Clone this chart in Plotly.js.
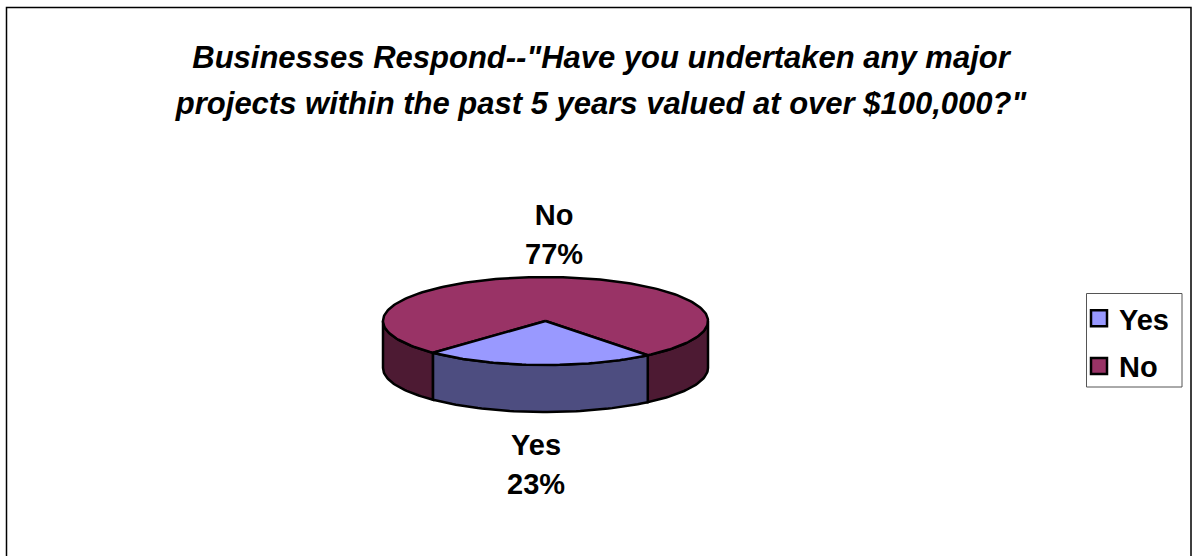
<!DOCTYPE html>
<html>
<head>
<meta charset="utf-8">
<script src="https://cdn.plot.ly/plotly-3.0.1.min.js"></script>
<style>html,body{margin:0;padding:0;background:#fff;overflow:hidden}</style>
</head>
<body>
<div id="chart" style="width:1193px;height:556px"></div>
<script>
var categories = ['Yes', 'No'];
var shares = [23, 77];
var topColors = ['#9999FF', '#993366'];
var sideColors = ['#4D4D80', '#4D1A33'];
var titleLines = ['Businesses Respond--"Have you undertaken any major', 'projects within the past 5 years valued at over $100,000?"'];

var W = 1193, H = 556;
var cx = 545.5, cy = 321, rx = 162.5, ry = 44, depth = 47;
var startDeg = 141;
var FONT = 'Liberation Sans, Arial, sans-serif';

// The pie's unit coordinates: x = sin(theta), y = cos(theta) * tilt, so the scales do the placing.
var tilt = ry / rx, drop = depth / rx;
function pt(deg) { var r = deg * Math.PI / 180; return [Math.sin(r), Math.cos(r) * tilt]; }
function arc(a, b, dy) {
  var xs = [], ys = [], n = Math.max(2, Math.ceil(Math.abs(b - a) / 1.5));
  for (var i = 0; i <= n; i++) { var p = pt(a + (b - a) * i / n); xs.push(p[0]); ys.push(p[1] - dy); }
  return [xs, ys];
}
function poly(xy, name, fill, extra) {
  return Object.assign({ type: 'scatter', mode: 'lines', x: xy[0], y: xy[1], fill: 'toself', fillcolor: fill,
    line: { color: '#000', width: 2.5, shape: 'linear' }, hoverinfo: 'name', name: name, showlegend: false }, extra || {});
}
function wall(a, b, name, fill) {
  var top = arc(a, b, 0), bot = arc(b, a, drop);
  return poly([top[0].concat(bot[0], [top[0][0]]), top[1].concat(bot[1], [top[1][0]])], name, fill);
}
var yesEnd = startDeg + shares[0] / (shares[0] + shares[1]) * 360;
var traces = [
  wall(90, startDeg, categories[1], sideColors[1]),
  wall(yesEnd, 270, categories[1], sideColors[1]),
  wall(startDeg, yesEnd, categories[0], sideColors[0])
];
function sector(a, b, name, fill) {
  var s = arc(a, b, 0);
  return poly([[0].concat(s[0], [0]), [0].concat(s[1], [0])], name, fill);
}
traces.push(sector(yesEnd, startDeg + 360, categories[1], topColors[1]));
traces.push(sector(startDeg, yesEnd, categories[0], topColors[0]));
categories.forEach(function (c, i) {
  traces.push({ type: 'scatter', mode: 'markers', x: [null], y: [null], name: c, legendgroup: c, showlegend: true, hoverinfo: 'skip',
    marker: { symbol: 'square', size: 16, color: topColors[i], line: { color: '#000', width: 2.5 } } });
});

var layout = {
  width: W, height: H, margin: { l: 0, r: 0, t: 0, b: 0 }, paper_bgcolor: '#fff', plot_bgcolor: '#fff',
  font: { family: FONT, color: '#000' },
  title: { text: '<span style="font-size:31px">' + titleLines.join('<br>') + '</span>',
    font: { family: FONT, size: 35.4, color: '#000', weight: 'bold', style: 'italic' },
    x: 601 / W, xanchor: 'center', y: 1 - 68 / H, yanchor: 'top' },
  xaxis: { visible: false, fixedrange: true, range: [(0 - cx) / rx, (W - cx) / rx] },
  yaxis: { visible: false, fixedrange: true, range: [(cy - H) / rx, cy / rx] },
  showlegend: true,
  legend: { x: 1079 / W, xanchor: 'left', y: 1 - 293 / H, yanchor: 'top', bgcolor: 'rgba(0,0,0,0)', borderwidth: 0,
    font: { family: FONT, size: 29, color: '#000', weight: 'bold' }, itemwidth: 30, traceorder: 'grouped', tracegroupgap: 7 },
  shapes: [
    { type: 'rect', xref: 'paper', yref: 'paper', x0: 6.5 / W, x1: 1191 / W, y0: -0.1, y1: 1 - 7.5 / H, line: { color: '#000', width: 1.5 }, layer: 'below' },
    { type: 'rect', xref: 'paper', yref: 'paper', x0: 1086.5 / W, x1: 1182 / W, y0: 1 - 387 / H, y1: 1 - 293.5 / H, fillcolor: '#fff', line: { color: '#555', width: 1 }, layer: 'below' }
  ],
  annotations: [
    { xref: 'x', yref: 'y', x: (554 - cx) / rx, y: (cy - 234) / rx, text: '<span style="font-size:29px">' + categories[1] + '<br>' + shares[1] + '%</span>' },
    { xref: 'x', yref: 'y', x: (536 - cx) / rx, y: (cy - 464) / rx, text: '<span style="font-size:29px">' + categories[0] + '<br>' + shares[0] + '%</span>' }
  ].map(function (a) { return Object.assign(a, { showarrow: false, xanchor: 'center', yanchor: 'middle', font: { family: FONT, size: 30, weight: 'bold', color: '#000' } }); })
};
Plotly.newPlot('chart', traces, layout, { displayModeBar: false, responsive: false });
</script>
</body>
</html>
